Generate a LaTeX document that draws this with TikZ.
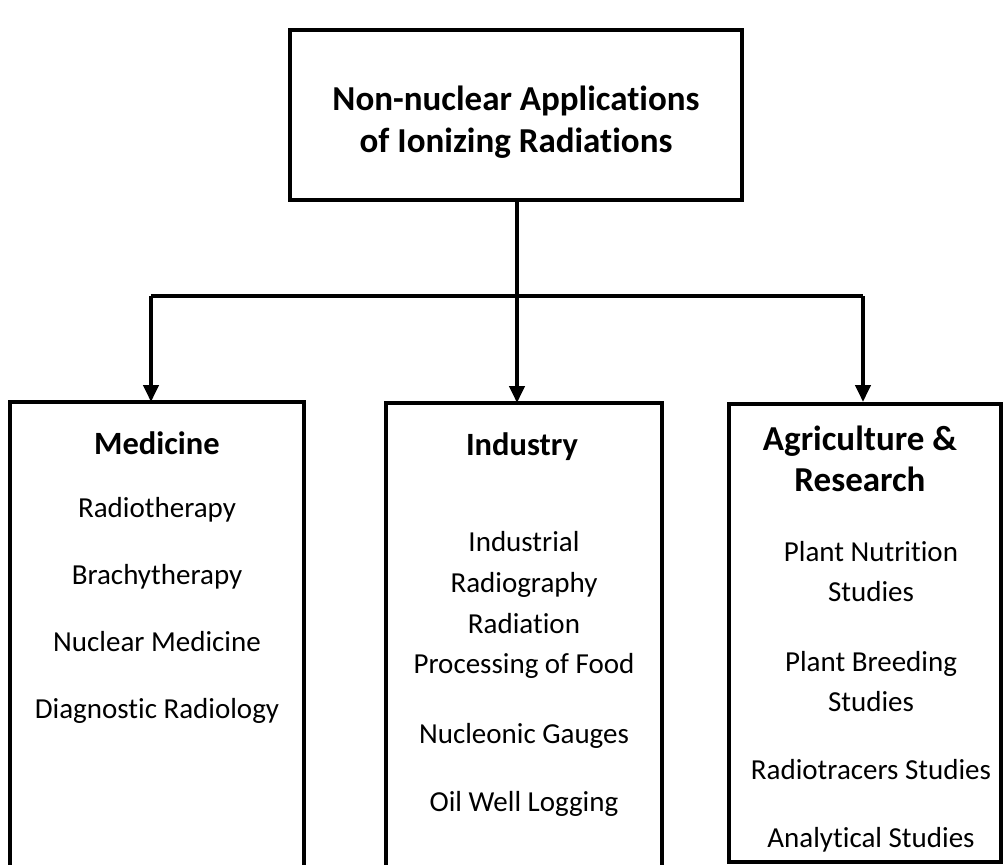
\documentclass[tikz,border=0pt]{standalone}
\usepackage{fontspec}
\setmainfont{Carlito}[RawFeature=-liga]
\usetikzlibrary{arrows.meta}

\begin{document}
\begin{tikzpicture}
  [x=1pt,y=-1pt,line width=4pt,
   every node/.style={inner sep=0pt,text height=0.64em,text depth=0pt,font=\fontsize{29}{35}\selectfont},
   head/.style={font=\fontsize{#1}{#1}\selectfont\bfseries},
   frame/.style={draw,text height=,text depth=},
   link/.style={-{Triangle[length=17pt,width=15pt]}}]
  \useasboundingbox (0,0) rectangle (1005,865);

  % boxes
  \node[frame,minimum width=452pt,minimum height=170pt] (root) at (516,115) {};
  \node[minimum width=290pt,minimum height=470pt] (med) at (157,639) {};
  \node[minimum width=272pt,minimum height=470pt] (ind) at (524,640) {};
  \node[frame,minimum width=272pt,minimum height=458pt] (agr) at (865,633) {};
  \draw (med.south west) -- (med.north west) -- (med.north east) -- (med.south east);
  \draw (ind.south west) -- (ind.north west) -- (ind.north east) -- (ind.south east);

  % title
  \node[head=35] (r1) at (516,107) {Non-nuclear Applications};
  \node[head=35] (r2) at (516,149) {of Ionizing Radiations};

  % medicine
  \node[head=32.5] (m0) at (157,451) {Medicine};
  \node (m1) at (157,514) {Radiotherapy};
  \node (m2) at (157,581) {Brachytherapy};
  \node (m3) at (157,648) {Nuclear Medicine};
  \node (m4) at (157,715) {Diagnostic Radiology};

  % industry
  \node[head=32.5] (i0) at (522,452) {Industry};
  \node (i1) at (524,548) {Industrial};
  \node (i2) at (524,589) {Radiography};
  \node (i3) at (524,630) {Radiation};
  \node (i4) at (524,670) {Processing of Food};
  \node (i5) at (524,740) {Nucleonic Gauges};
  \node (i6) at (524,808) {Oil Well Logging};

  % agriculture
  \node[head=35] (a0) at (860,447) {Agriculture \&};
  \node[head=35] (a1) at (860,488) {Research};
  \node (a2) at (871,558) {Plant Nutrition};
  \node (a3) at (871,598) {Studies};
  \node (a4) at (871,668) {Plant Breeding};
  \node (a5) at (871,708) {Studies};
  \node (a6) at (871,776) {Radiotracers Studies};
  \node (a7) at (871,844) {Analytical Studies};

  % connectors
  \coordinate (bar) at (517,296);
  \coordinate (medin) at (151,402);
  \coordinate (indin) at (517,403);
  \coordinate (agrin) at (863,402);
  \draw (root.south -| bar) -- (bar);
  \draw (medin |- bar) -- (agrin |- bar);
\foreach \to in {medin,indin,agrin}
    \draw[link] (\to |- bar) -- (\to);

\end{tikzpicture}
\end{document}
